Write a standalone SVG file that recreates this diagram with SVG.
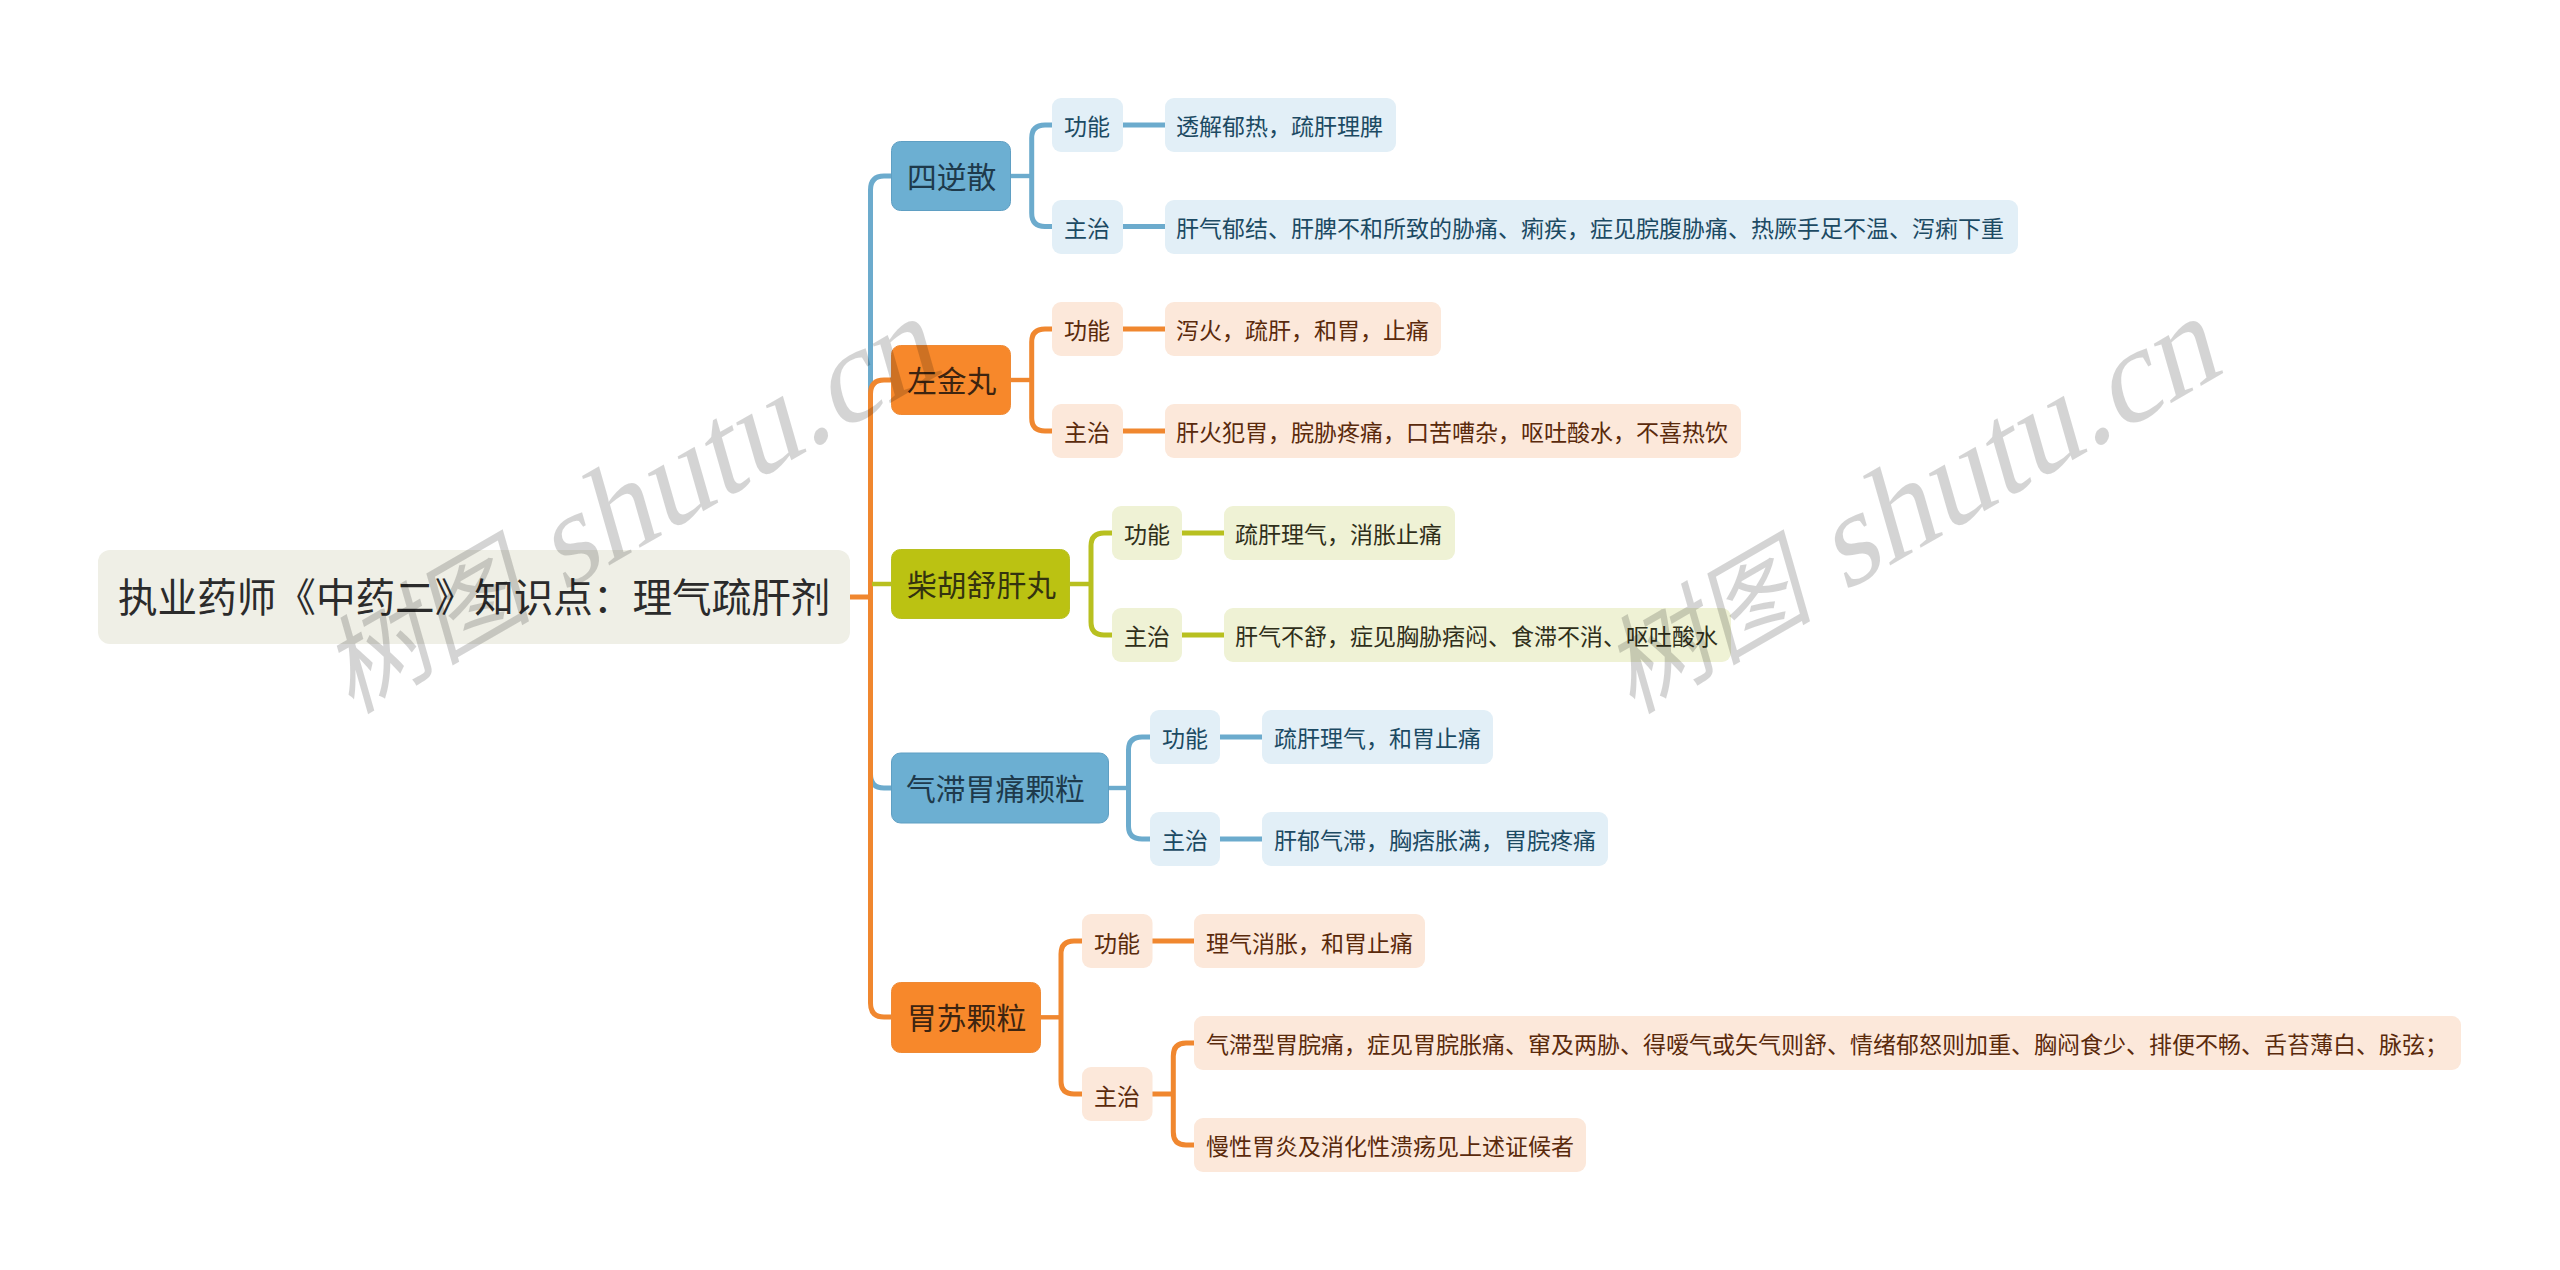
<svg xmlns="http://www.w3.org/2000/svg" width="2560" height="1270" viewBox="0 0 2560 1270">
<style>
text{font-family:"Noto Sans CJK SC","Noto Sans",sans-serif}
.c{fill:none;stroke-width:5}
.s{stroke-width:4.4}
.b{stroke:#6cabcd}.o{stroke:#f0872f}.g{stroke:#b8c020}
.t0{font-size:39.6px;fill:#2b2b2b}
.t1{font-size:29.8px}
.t2{font-size:23px}
.lb{fill:#e2eff7}.lo{fill:#fce8da}.lg{fill:#eff2d5}
.tb{fill:#1c4a63}.to{fill:#5a2a0c}.tg{fill:#2f2f1a}
.wm{font-family:"Liberation Serif","Noto Sans CJK SC",serif;font-size:131px;fill:#000;fill-opacity:.17}
.wc{font-family:"Noto Sans CJK SC",sans-serif;font-size:106px}
</style>
<rect width="2560" height="1270" fill="#fff"/>
<g id="connectors">
<path class="c b" d="M870.500 597V190Q870.500 176 884 176H891"/>
<path class="c s b" d="M1011 176H1031.700"/>
<path class="c b" d="M1052 125H1045Q1031.700 125 1031.700 138V213Q1031.700 226.500 1045 226.500H1052"/>
<path class="c b" d="M1123 125H1165M1123 226.500H1165"/>
<path class="c o" d="M870.500 597V394Q870.500 380 884 380H891"/>
<path class="c s o" d="M1011 380H1031.700"/>
<path class="c o" d="M1052 329H1045Q1031.700 329 1031.700 342V418Q1031.700 431 1045 431H1052"/>
<path class="c o" d="M1123 329H1165M1123 431H1165"/>
<path class="c s g" d="M872 584H891M1070 584H1091"/>
<path class="c g" d="M1112 533H1104Q1091 533 1091 546V622Q1091 635 1104 635H1112"/>
<path class="c g" d="M1181 533H1224M1181 635H1224"/>
<path class="c b" d="M870.500 597V774Q870.500 788 884 788H891"/>
<path class="c s b" d="M1108 788H1128.500"/>
<path class="c b" d="M1150 737H1142Q1128.500 737 1128.500 750V826Q1128.500 839 1142 839H1150"/>
<path class="c b" d="M1220 737H1262M1220 839H1262"/>
<path class="c o" d="M870.500 597V1003Q870.500 1017 884 1017H891"/>
<path class="c s o" d="M1040 1017.300H1061"/>
<path class="c o" d="M1082 941H1074Q1061 941 1061 954V1081Q1061 1094 1074 1094H1082"/>
<path class="c o" d="M1152 941H1194M1152 1094H1173.300"/>
<path class="c o" d="M1194 1043H1186Q1173.300 1043 1173.300 1056V1132Q1173.300 1145 1186 1145H1194"/>
<path class="c o" d="M850 597H870.500"/>
</g>
<g id="root"><rect x="98" y="550" width="752" height="94" rx="12" fill="#efefe6"/><text class="t0" x="118" y="612">执业药师《中药二》知识点：理气疏肝剂</text></g>
<g id="n1"><rect x="891.500" y="141.500" width="119" height="69" rx="9" fill="#6cafd2" stroke="#5f9fc3"/><text class="t1" x="907" y="188" fill="#1e3a4c">四逆散</text></g>
<g id="n1a"><rect x="1052" y="98" width="71" height="54" rx="9" class="lb"/><text class="t2 tb" x="1064" y="135">功能</text></g>
<g id="n1a1"><rect x="1165" y="98" width="231" height="54" rx="9" class="lb"/><text class="t2 tb" x="1176" y="135">透解郁热，疏肝理脾</text></g>
<g id="n1b"><rect x="1052" y="200" width="71" height="54" rx="9" class="lb"/><text class="t2 tb" x="1064" y="237">主治</text></g>
<g id="n1b1"><rect x="1165" y="200" width="853" height="54" rx="9" class="lb"/><text class="t2 tb" x="1176" y="237">肝气郁结、肝脾不和所致的胁痛、痢疾，症见脘腹胁痛、热厥手足不温、泻痢下重</text></g>
<g id="n2"><rect x="891.500" y="345.500" width="119" height="69" rx="9" fill="#f7882b" stroke="#ef8a35"/><text class="t1" x="907" y="392" fill="#3d2410">左金丸</text></g>
<g id="n2a"><rect x="1052" y="302" width="71" height="54" rx="9" class="lo"/><text class="t2 to" x="1064" y="339">功能</text></g>
<g id="n2a1"><rect x="1165" y="302" width="276" height="54" rx="9" class="lo"/><text class="t2 to" x="1176" y="339">泻火，疏肝，和胃，止痛</text></g>
<g id="n2b"><rect x="1052" y="404" width="71" height="54" rx="9" class="lo"/><text class="t2 to" x="1064" y="441">主治</text></g>
<g id="n2b1"><rect x="1165" y="404" width="576" height="54" rx="9" class="lo"/><text class="t2 to" x="1176" y="441">肝火犯胃，脘胁疼痛，口苦嘈杂，呕吐酸水，不喜热饮</text></g>
<g id="n3"><rect x="891.500" y="549.500" width="178" height="69" rx="9" fill="#bbc212" stroke="#b8c020"/><text class="t1" x="907" y="596" fill="#33330f">柴胡舒肝丸</text></g>
<g id="n3a"><rect x="1112" y="506" width="70" height="54" rx="9" class="lg"/><text class="t2 tg" x="1124" y="543">功能</text></g>
<g id="n3a1"><rect x="1224" y="506" width="231" height="54" rx="9" class="lg"/><text class="t2 tg" x="1235" y="543">疏肝理气，消胀止痛</text></g>
<g id="n3b"><rect x="1112" y="608" width="70" height="54" rx="9" class="lg"/><text class="t2 tg" x="1124" y="645">主治</text></g>
<g id="n3b1"><rect x="1224" y="608" width="507" height="54" rx="9" class="lg"/><text class="t2 tg" x="1235" y="645">肝气不舒，症见胸胁痞闷、食滞不消、呕吐酸水</text></g>
<g id="n4"><rect x="891.500" y="753" width="217" height="70" rx="9" fill="#6cafd2" stroke="#5f9fc3"/><text class="t1" x="906" y="800" fill="#1e3a4c">气滞胃痛颗粒</text></g>
<g id="n4a"><rect x="1150" y="710" width="70" height="54" rx="9" class="lb"/><text class="t2 tb" x="1162" y="747">功能</text></g>
<g id="n4a1"><rect x="1262" y="710" width="231" height="54" rx="9" class="lb"/><text class="t2 tb" x="1274" y="747">疏肝理气，和胃止痛</text></g>
<g id="n4b"><rect x="1150" y="812" width="70" height="54" rx="9" class="lb"/><text class="t2 tb" x="1162" y="849">主治</text></g>
<g id="n4b1"><rect x="1262" y="812" width="346" height="54" rx="9" class="lb"/><text class="t2 tb" x="1274" y="849">肝郁气滞，胸痞胀满，胃脘疼痛</text></g>
<g id="n5"><rect x="891.500" y="982.500" width="149" height="70" rx="9" fill="#f7882b" stroke="#ef8a35"/><text class="t1" x="907" y="1029" fill="#3d2410">胃苏颗粒</text></g>
<g id="n5a"><rect x="1082" y="914" width="70.500" height="54" rx="9" class="lo"/><text class="t2 to" x="1094" y="952">功能</text></g>
<g id="n5a1"><rect x="1194" y="914" width="231" height="54" rx="9" class="lo"/><text class="t2 to" x="1206" y="952">理气消胀，和胃止痛</text></g>
<g id="n5b"><rect x="1082" y="1067" width="70.500" height="54" rx="9" class="lo"/><text class="t2 to" x="1094" y="1105">主治</text></g>
<g id="n5b1"><rect x="1194" y="1016" width="1267" height="54" rx="9" class="lo"/><text class="t2 to" x="1206" y="1053">气滞型胃脘痛，症见胃脘胀痛、窜及两胁、得嗳气或矢气则舒、情绪郁怒则加重、胸闷食少、排便不畅、舌苔薄白、脉弦；</text></g>
<g id="n5b2"><rect x="1194" y="1118" width="392" height="54" rx="9" class="lo"/><text class="t2 to" x="1206" y="1155">慢性胃炎及消化性溃疡见上述证候者</text></g>
<text class="wm" text-anchor="end" transform="translate(944 372) rotate(-30) skewX(-14)"><tspan class="wc">树图</tspan> shutu.cn</text>
<text class="wm" text-anchor="end" transform="translate(2225 372) rotate(-30) skewX(-14)"><tspan class="wc">树图</tspan> shutu.cn</text>
</svg>
